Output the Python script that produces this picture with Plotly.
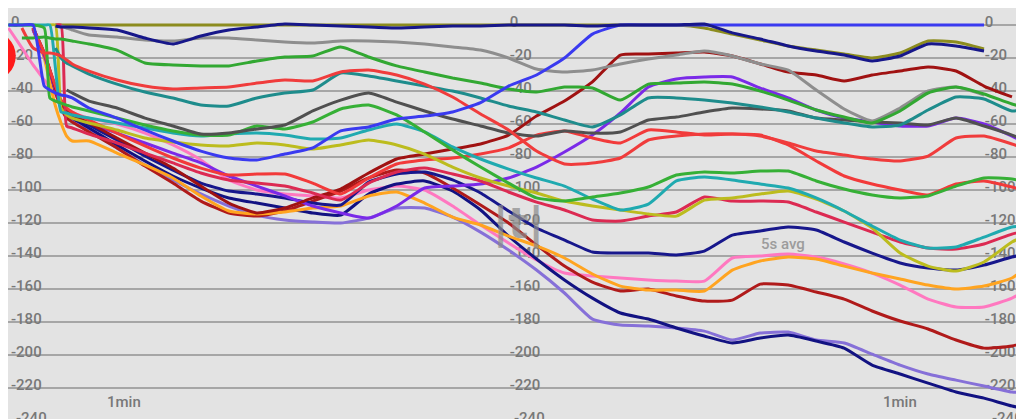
import plotly.graph_objects as go

# time in seconds, depth in metres
t = [0.3, 1.5, 2.5, 3.5, 4.0, 4.5, 5.0, 5.5, 6.0, 7.5, 10, 12.5, 15, 17.5, 20, 22.5, 25, 27.5,
     30, 32.5, 35, 37.5, 40, 42.5, 45, 47.5, 50, 52.5, 55, 57.5, 60, 62.5, 65, 67.5, 70, 72.5,
     75, 77.5, 80, 82.5, 85, 87.5, 90, 91.8]

depth_ticks = [0, -20, -40, -60, -80, -100, -120, -140, -160, -180, -200, -220, -240]

olive = [None] * 5 + [0] * 26 + [-1.8, -5.5, -9.1, -12.7, -15.2, -17.6, -20.0, -17.0, -9.7, -10.3, -14.5] + [None] * 2
navy1 = [None] * 5 + [-0.6, -1.2, -1.2, -1.2, -1.8, -3.0, -7.9, -11.5, -6.7, -3.0, -1.2, 0.6, 0.0, -0.6, -1.2, -1.8,
                      -1.2, -0.6, -0.6, 0.0, 0.0, 0.0, -0.6, 0.0, 0.0, 0.0, 0.6, -4.8, -8.5, -12.7, -15.8, -18.2,
                      -21.8, -18.8, -11.5, -12.7, -15.8] + [None] * 2
blue = [0, 0, 0, -37.0, -39.4, -41.2, -42.4, -43.0, -44.2, -50.3, -56.4, -63.6, -70.3, -76.4, -80.6, -81.8, -78.2,
        -74.5, -64.2, -61.8, -57.0, -55.2, -52.7, -47.0, -37.0, -30.3, -20.0, -5.5] + [0] * 14 + [None] * 2
gray = [None] * 6 + [-0.6, -1.8, -3.0, -6.1, -7.3, -9.1, -9.7, -7.9, -7.9, -9.1, -10.3, -10.9, -9.7, -9.7, -10.3,
                     -11.5, -13.3, -15.2, -20.0, -26.7, -28.5, -27.3, -23.6, -20.6, -18.2, -15.8, -18.8, -23.6,
                     -27.3, -39.4, -50.9, -58.2, -50.3, -40.0, -37.6, -42.4] + [None] * 2
green_a = [None, -7.9, -7.9, -7.3, -7.9, -8.5, -8.5, -9.1, -9.7, -11.5, -15.2, -23.0, -24.2, -24.8, -24.8, -21.8,
           -19.4, -18.8, -13.3, -19.4, -24.8, -28.5, -32.1, -35.2, -38.8, -40.6, -37.6, -38.2, -45.5, -35.8, -35.2,
           -34.5, -35.8, -40.0, -45.5, -51.5, -55.8, -59.4, -52.1, -41.2, -37.6, -41.8, -47.9, -50.9]
red_a = [None, -1.8, -13.9, -17.0, -17.0, -17.6, -18.8, -21.2, -23.6, -27.9, -33.3, -37.0, -38.8, -38.2, -37.6,
         -35.2, -33.3, -33.9, -28.5, -27.3, -30.3, -35.8, -43.6, -53.9, -63.6, -76.4, -84.2, -83.6, -80.6, -69.7,
         -67.3, -66.1, -66.1, -67.3, -71.5, -76.4, -78.8, -81.2, -82.4, -79.4, -68.5, -67.3, -72.1, -76.4]
teal = [None] * 5 + [-13.9, -20.0, -23.0, -24.8, -29.7, -35.8, -40.6, -44.2, -48.5, -49.1, -44.2, -41.2, -39.4,
                     -29.1, -30.9, -33.9, -37.0, -40.0, -44.2, -49.1, -52.7, -57.6, -61.8, -54.5, -44.2, -44.2,
                     -45.5, -47.3, -49.7, -52.7, -56.4, -59.4, -61.8, -60.6, -51.5, -43.6, -44.8, -52.1, -50.3]
dark_gray = [None] * 7 + [-39.4, -41.2, -46.1, -50.3, -56.4, -61.2, -66.1, -65.5, -63.0, -60.6, -52.1, -45.5,
                          -41.2, -46.7, -52.1, -57.0, -61.2, -65.5, -67.3, -64.2, -65.5, -64.8, -57.6, -55.8,
                          -52.7, -50.3, -50.9, -52.1, -56.4, -57.6, -58.8, -59.4, -60.6, -56.4, -61.2, -66.7, -71.5]
green_b = [0, 0, 0, -1.8, -44.2, -46.1, -47.3, -48.5, -49.7, -52.1, -56.4, -60.6, -64.2, -66.7, -66.7, -61.2,
           -63.0, -58.8, -50.9, -48.5, -54.5, -64.8, -75.8, -86.1, -95.8, -104.8, -106.7, -104.2, -101.8, -98.2,
           -90.9, -89.1, -89.7, -88.5, -88.5, -94.5, -99.4, -103.0, -104.8, -103.6, -97.6, -92.7, -93.3, -96.4]
cyan = [0, 0, 0, 0, 0, -26.1, -52.7, -53.3, -54.5, -56.4, -59.4, -62.4, -65.5, -67.3, -66.1, -65.5, -66.7,
        -69.1, -68.5, -63.6, -60.0, -64.8, -73.9, -81.2, -87.3, -92.7, -97.6, -105.5, -112.1, -108.5, -94.5,
        -92.1, -93.9, -96.4, -98.8, -104.8, -112.7, -121.8, -130.3, -135.2, -134.5, -128.5, -122.4, -121.2]
yellow = [None] * 4 + [0, 0, -50.3, -54.5, -56.4, -59.4, -63.6, -68.5, -70.9, -72.7, -73.3, -71.5, -72.7, -75.2,
                       -72.7, -69.7, -72.7, -78.2, -86.1, -92.7, -97.6, -101.8, -106.7, -109.7, -112.1, -114.5,
                       -115.8, -106.1, -104.8, -102.4, -100.6, -105.5, -112.7, -123.0, -138.2, -146.1, -149.1,
                       -143.6, -131.5, -126.1]
crimson = [None] * 5 + [0, 0, -61.2, -62.4, -66.1, -71.5, -77.6, -83.6, -89.7, -93.9, -95.8, -97.6, -101.8, -106.1,
                        -95.8, -89.1, -86.7, -90.3, -94.5, -101.2, -107.3, -112.1, -118.2, -118.8, -115.8, -113.3,
                        -104.2, -106.7, -106.7, -107.3, -113.3, -119.4, -125.5, -131.5, -135.2, -135.8, -132.7,
                        -126.7, -123.6]
red_b = [None] * 2 + [-1.8, -17.0, -27.3, -37.0, -45.5, -50.3, -52.7, -57.6, -65.5, -73.3, -80.6, -86.7, -90.9,
                      -90.3, -90.3, -95.8, -102.4, -92.7, -84.2, -81.8, -80.6, -78.2, -74.5, -66.7, -64.2, -68.5,
                      -71.5, -63.6, -64.8, -66.7, -66.1, -66.7, -72.7, -82.4, -91.5, -96.4, -100.0, -103.0, -96.4,
                      -94.5, -98.2, -101.8]
maroon = [None] * 2 + [-1.8, -17.0, -27.3, -38.2, -47.3, -52.1, -54.5, -59.4, -68.5, -77.6, -86.7, -97.6, -107.9,
                       -113.9, -110.9, -104.8, -99.4, -89.7, -81.2, -78.2, -75.2, -72.1, -66.7, -55.2, -46.1, -34.5,
                       -18.2, -17.6, -17.0, -16.4, -18.8, -23.6, -28.5, -30.3, -33.9, -30.3, -27.9, -25.5, -27.9,
                       -37.0, -43.6] + [None]
purple = [None] * 2 + [-3.0, -18.8, -28.5, -39.4, -47.9, -53.3, -55.2, -59.4, -65.5, -71.5, -77.6, -83.6, -91.5,
                       -97.6, -103.6, -109.7, -113.9, -117.0, -109.7, -98.8, -97.6, -96.4, -92.7, -86.1, -77.0,
                       -66.7, -53.3, -37.6, -32.7, -31.5, -31.5, -38.2, -44.2, -51.5, -56.4, -58.8, -61.2, -61.2,
                       -56.4, -60.0, -67.3, -73.3]
navy2 = [None] * 2 + [-1.8, -17.6, -27.9, -38.2, -47.9, -52.7, -55.2, -60.6, -69.7, -79.4, -87.9, -95.8, -100.6,
                      -102.4, -104.8, -107.9, -109.1, -95.2, -90.3, -89.1, -93.9, -101.8, -112.7, -123.0, -130.3,
                      -137.6, -138.2, -138.2, -139.4, -137.0, -127.3, -124.8, -122.4, -124.2, -131.5, -138.2,
                      -144.2, -147.3, -148.5, -145.5, -140.6, -138.2]
navy3 = [None] * 2 + [-2.4, -18.2, -28.5, -39.4, -48.5, -53.9, -56.4, -62.4, -72.7, -82.4, -91.5, -98.8, -104.8,
                      -107.9, -110.9, -113.9, -115.2, -102.4, -96.4, -94.5, -100.6, -112.1, -127.9, -141.8, -154.5,
                      -165.5, -174.5, -178.2, -183.6, -188.5, -192.7, -189.7, -187.9, -191.5, -195.8, -206.1,
                      -211.5, -217.0, -222.4, -226.1, -230.9, -233.3]
lavender = [None] * 2 + [-3.0, -18.8, -29.7, -40.6, -49.1, -55.2, -57.6, -63.6, -74.5, -84.8, -93.9, -102.4,
                         -109.7, -115.2, -118.2, -119.4, -120.0, -117.0, -110.9, -110.9, -116.4, -125.5, -136.4,
                         -148.5, -162.4, -178.2, -181.8, -182.4, -183.6, -185.5, -190.9, -186.7, -186.1, -190.9,
                         -192.7, -199.4, -206.1, -211.5, -215.2, -218.8, -222.4, -223.0]
orange = [None] * 2 + [-3.0, -20.0, -35.2, -49.1, -59.4, -67.3, -70.3, -70.3, -77.6, -84.8, -92.7, -103.6, -112.7,
                       -114.5, -113.3, -110.9, -109.7, -103.6, -101.2, -107.9, -116.4, -121.2, -127.9, -133.9,
                       -141.2, -150.9, -158.2, -160.6, -160.6, -161.2, -148.5, -143.0, -140.6, -141.8, -146.1,
                       -150.3, -153.9, -157.6, -160.0, -158.2, -153.3, -144.2]
dark_red = [None] * 2 + [-2.4, -18.2, -29.1, -40.6, -50.3, -56.4, -58.8, -64.8, -74.5, -85.5, -95.8, -106.7,
                         -113.9, -115.8, -112.7, -106.7, -100.6, -92.7, -87.9, -89.7, -98.8, -109.1, -120.0, -133.3,
                         -146.1, -155.8, -161.2, -160.0, -164.2, -167.3, -166.7, -157.0, -157.6, -161.8, -166.1,
                         -173.3, -179.4, -184.2, -190.9, -195.8, -194.5, -190.9]
pink = [-1.8, -13.9, -24.2, -33.3, -38.2, -42.4, -47.3, -50.3, -52.7, -56.4, -60.0, -65.5, -72.7, -81.8, -93.9,
        -100.0, -102.4, -103.6, -104.8, -100.0, -97.6, -100.0, -109.7, -121.2, -132.1, -142.4, -150.3, -152.1,
        -153.3, -154.5, -155.2, -155.2, -141.2, -140.0, -138.8, -140.6, -144.8, -150.3, -157.6, -166.1, -170.9,
        -170.9, -165.5, -158.2]

# current position dot at the left edge (centre, radius in s / m)
dot_t = -1.3
dot_d = -18.8
dot_rt = 2.25
dot_rd = 15.3

series = [
    (olive, "#8c8c1e"), (pink, "#ff78c0"), (lavender, "#8670d8"), (navy3, "#121282"),
    (dark_red, "#b01a1a"), (orange, "#ffa420"), (navy2, "#17178c"), (purple, "#7a2ae8"),
    (maroon, "#a01212"), (red_b, "#f23a3a"), (crimson, "#dc2a52"), (yellow, "#bcbc1e"),
    (cyan, "#20aab0"), (green_b, "#36b036"), (dark_gray, "#505050"), (teal, "#1e8c8c"),
    (red_a, "#f03c3c"), (gray, "#8e8e8e"), (green_a, "#32a832"), (blue, "#3a3af0"), (navy1, "#17178a"),
]

fig = go.Figure()
# empty trace so the middle depth scale gets drawn
fig.add_trace(go.Scatter(x=[], y=[], yaxis='y2', hoverinfo='skip'))
for vals, col in series:
    fig.add_trace(go.Scatter(x=t, y=vals, mode='lines', yaxis='y3',
                             line=dict(color=col, width=3, shape='spline', smoothing=0.5),
                             hoverinfo='skip', connectgaps=False))

fig.add_shape(type='circle', xref='x', yref='y',
              x0=dot_t - dot_rt, x1=dot_t + dot_rt, y0=dot_d - dot_rd, y1=dot_d + dot_rd,
              fillcolor='#ff1a1a', line=dict(width=0))

lab_font = dict(family='Roboto', size=15, color='#787878', weight=500)
tick_text = [str(v) for v in depth_ticks]
y_common = dict(tickmode='array', tickvals=depth_ticks, ticktext=tick_text, ticks='',
                ticklabelposition='inside', ticklabelstandoff=0, ticklabelshift=-3,
                tickfont=lab_font, zeroline=False, showline=False, layer='below traces')

fig.update_layout(
    width=1024, height=419, margin=dict(l=0, r=0, t=0, b=0),
    paper_bgcolor='#e3e3e3', plot_bgcolor='#e3e3e3', showlegend=False,
    xaxis=dict(range=[0.26, 91.79], tick0=0, dtick=5, showgrid=True, gridcolor='#a6a6a6', gridwidth=2,
               showticklabels=False, zeroline=False, ticks=''),
    yaxis=dict(range=[-243.6, 10.3], showgrid=True, gridcolor='#a6a6a6', gridwidth=2, **y_common),
    yaxis2=dict(overlaying='y', matches='y', anchor='free', position=0.486, side='left',
                showgrid=False, **y_common),
    yaxis3=dict(overlaying='y', matches='y', anchor='free', position=0.95, side='left',
                showgrid=False, **y_common),
)

# bottom row of the depth scales sits half off the screen, plotly drops it
for xs in [0.8, 45.3, 88.0]:
    fig.add_annotation(x=xs, y=depth_ticks[-1], text=tick_text[-1], showarrow=False,
                       xanchor='left', yshift=3, font=lab_font)

# labels over the plot
fig.add_annotation(x=10.6, y=-228.5, text='1min', showarrow=False, font=lab_font)
fig.add_annotation(x=80.0, y=-228.5, text='1min', showarrow=False, font=lab_font)
fig.add_annotation(x=69.5, y=-133.0, text='5s avg', showarrow=False,
                   font=dict(family='Roboto', size=15, color='#9c9c9c', weight=500))
fig.add_annotation(x=45.9, y=-120, text='|t|', showarrow=False, opacity=0.7,
                   font=dict(family='DejaVu Sans', size=42, color='#8a8a8a', weight='bold'))

fig.write_html("out.html")
